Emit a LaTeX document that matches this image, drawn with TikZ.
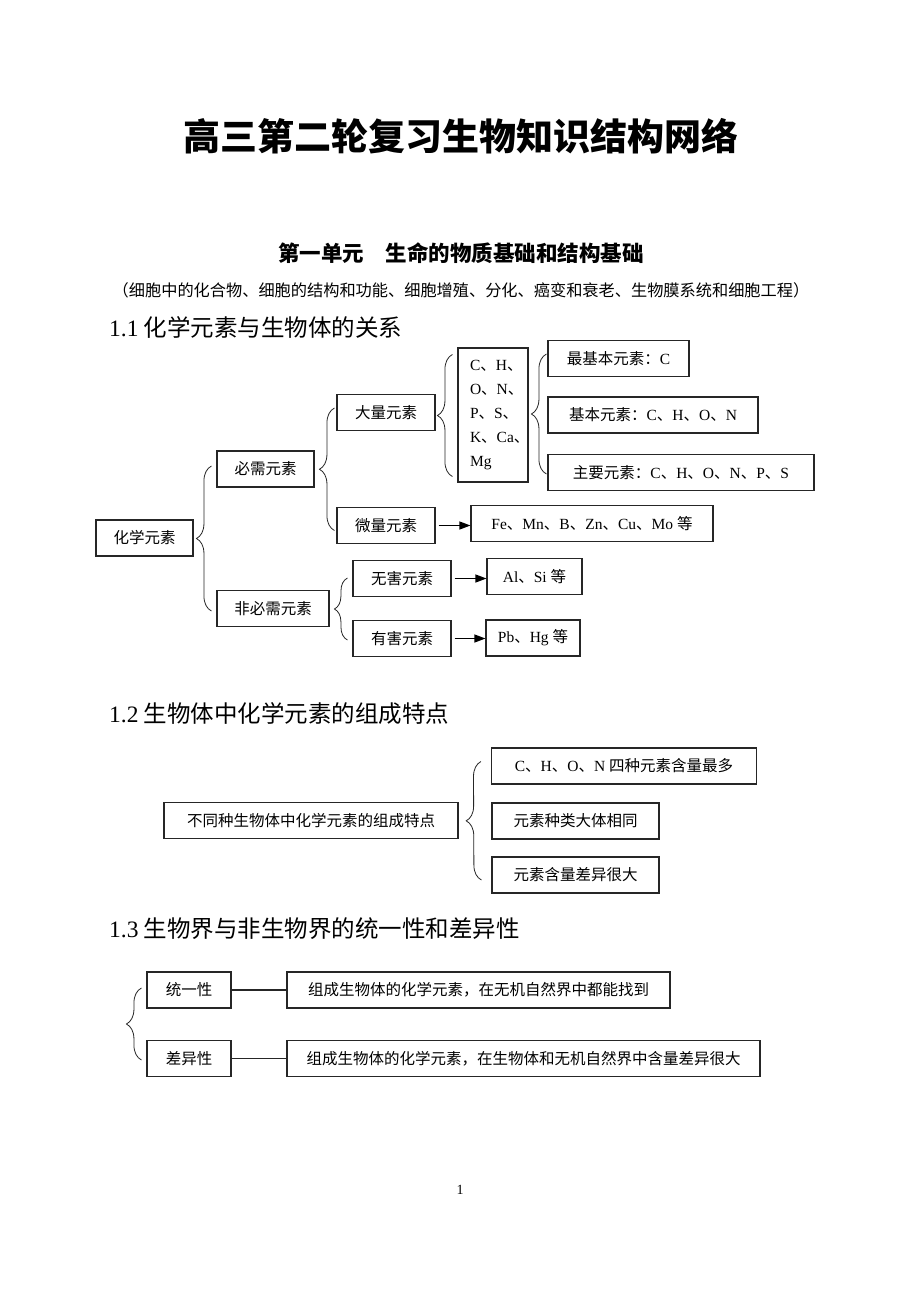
\documentclass[tikz,border=0pt]{standalone}
\usepackage{fontspec}
\setmainfont{Noto Sans CJK SC}
\newfontfamily\lt{Liberation Serif}
\usetikzlibrary{arrows.meta,decorations.pathreplacing}

\begin{document}
\begin{tikzpicture}[x=1pt,y=-1pt]
  \tikzstyle{box}=[draw=black!85,line width=1.1pt,minimum height=36pt,inner sep=0pt,font=\fontsize{15.5pt}{18pt}\selectfont]
  \tikzstyle{brc}=[decorate,decoration={brace,amplitude=15pt},line width=0.8pt,draw=black!85]
  \tikzstyle{arr}=[-{Triangle[length=11pt,width=8pt]},line width=1.1pt,shorten <=3pt]
  \tikzstyle{head}=[anchor=west,inner sep=0pt,font=\fontsize{23.5pt}{28pt}\selectfont]
  \fill[white] (0,0) rectangle (920,1302);
  \useasboundingbox (0,0) rectangle (920,1302);
  % titles
  \node[font=\fontsize{37pt}{44pt}\selectfont\bfseries] (title) at (460.5,136) {高三第二轮复习生物知识结构网络};
  \node[font=\fontsize{21.5pt}{26pt}\selectfont\bfseries] (unit) at (461,253) {第一单元\quad 生命的物质基础和结构基础};
  \node[font=\fontsize{16.2pt}{19pt}\selectfont] (topics) at (461,290) {（细胞中的化合物、细胞的结构和功能、细胞增殖、分化、癌变和衰老、生物膜系统和细胞工程）};
  % 1.1
  \node[head] (h1) at (109,327) {{\lt 1.1} 化学元素与生物体的关系};
  \node[box,minimum width=97pt] (hx) at (144.5,538) {化学元素};
  \node[box,minimum width=97pt] (bx) at (265.5,469) {必需元素};
  \node[box,minimum width=112pt] (fb) at (273,608.5) {非必需元素};
  \node[box,minimum width=98pt] (dl) at (386,412.5) {大量元素};
  \node[box,minimum width=98pt] (wl) at (386,525.5) {微量元素};
  \node[box,minimum width=98pt] (wh) at (402,578.5) {无害元素};
  \node[box,minimum width=98pt] (yh) at (402,638.5) {有害元素};
  \node[box,minimum width=70pt,minimum height=134pt,text width=46pt,align=left,font=\fontsize{15.5pt}{24pt}\selectfont] (dy) at (493,415)
    {{\lt C}、{\lt H}、\\{\lt O}、{\lt N}、\\{\lt P}、{\lt S}、\\{\lt K}、{\lt Ca}、\\{\lt Mg}};
  \node[box,minimum width=141pt] (zj) at (618.5,358.5) {最基本元素：{\lt C}};
  \node[box,minimum width=210pt] (jb) at (653,415) {基本元素：{\lt C}、{\lt H}、{\lt O}、{\lt N}};
  \node[box,minimum width=266pt] (zy) at (681,472.5) {主要元素：{\lt C}、{\lt H}、{\lt O}、{\lt N}、{\lt P}、{\lt S}};
  \node[box,minimum width=242pt] (fe) at (592,523.5) {{\lt Fe}、{\lt Mn}、{\lt B}、{\lt Zn}、{\lt Cu}、{\lt Mo }等};
  \node[box,minimum width=95pt] (al) at (534.5,576.5) {{\lt Al}、{\lt Si }等};
  \node[box,minimum width=94pt] (pb) at (533,638) {{\lt Pb}、{\lt Hg }等};
  \draw[brc] ([xshift=-5pt,yshift=-2.5pt]fb.west) -- ([xshift=-5pt,yshift=3pt]bx.west);
  \draw[brc] ([xshift=-2pt,yshift=-5pt]wl.west) -- ([xshift=-2pt,yshift=4.5pt]dl.west);
  \draw[brc,decoration={amplitude=13pt}] ([xshift=-5pt,yshift=-1.5pt]yh.west) -- ([xshift=-5pt,yshift=0.5pt]wh.west);
  \draw[brc] ([xshift=-5pt,yshift=6pt]dy.south west) -- ([xshift=-5pt,yshift=-7pt]dy.north west);
  \draw[brc] ([xshift=-1pt,yshift=-1.5pt]zy.west) -- ([xshift=-1pt,yshift=4.5pt]zj.west);
  \draw[arr] (wl.east) -- (wl.east -| fe.west);
  \draw[arr] (wh.east) -- (wh.east -| al.west);
  \draw[arr] (yh.east) -- (yh.east -| pb.west);
  % 1.2
  \node[head] (h2) at (109,714) {{\lt 1.2} 生物体中化学元素的组成特点};
  \node[box,minimum width=294pt] (tz) at (311,820.5) {不同种生物体中化学元素的组成特点};
  \node[box,minimum width=265pt] (c1) at (624,766) {{\lt C}、{\lt H}、{\lt O}、{\lt N }四种元素含量最多};
  \node[box,minimum width=167pt] (c2) at (575.5,821) {元素种类大体相同};
  \node[box,minimum width=167pt] (c3) at (575.5,875) {元素含量差异很大};
  \draw[brc] ([xshift=-10pt,yshift=-5pt]c3.west) -- ([xshift=-10pt,yshift=4.5pt]c1.west);
  % 1.3
  \node[head] (h3) at (109,929) {{\lt 1.3} 生物界与非生物界的统一性和差异性};
  \node[box,minimum width=84pt] (ty) at (189,990) {统一性};
  \node[box,minimum width=84pt] (cy) at (189,1058.5) {差异性};
  \node[box,minimum width=383pt] (t1) at (478.5,990) {组成生物体的化学元素，在无机自然界中都能找到};
  \node[box,minimum width=473pt] (t2) at (523.5,1058.5) {组成生物体的化学元素，在生物体和无机自然界中含量差异很大};
  \draw[line width=1.1pt,draw=black!85] (ty.east) -- (t1.west);
  \draw[line width=1.1pt,draw=black!85] (cy.east) -- (t2.west);
  \draw[brc] ([xshift=-5pt,yshift=-1.5pt]cy.west) -- ([xshift=-5pt,yshift=2pt]ty.west);
  % page number
  \node[font=\lt\fontsize{14pt}{16pt}\selectfont] (pg) at (460,1190) {1};
\end{tikzpicture}
\end{document}
